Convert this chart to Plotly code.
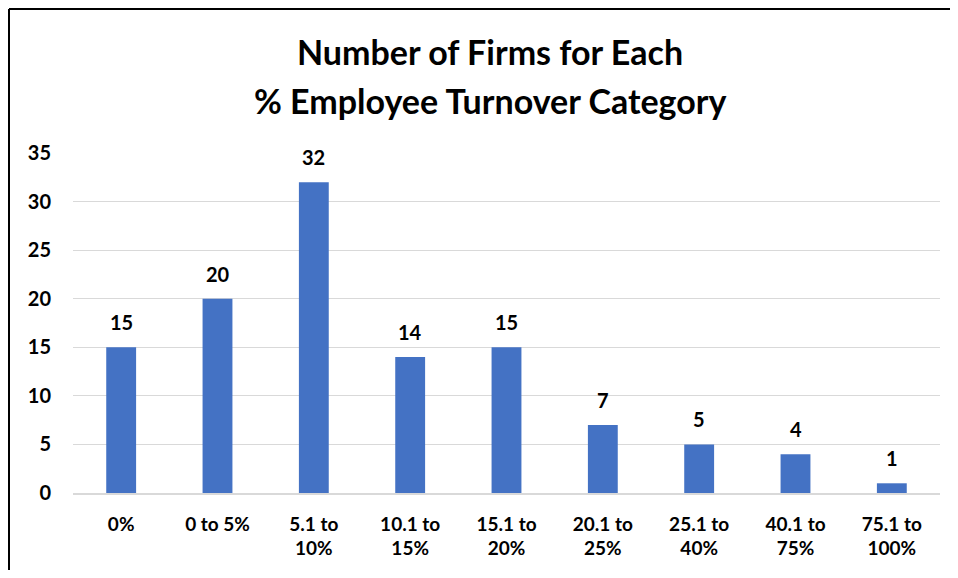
import plotly.graph_objects as go

CATEGORIES = ["0%", "0 to 5%", "5.1 to<br>10%", "10.1 to<br>15%", "15.1 to<br>20%",
              "20.1 to<br>25%", "25.1 to<br>40%", "40.1 to<br>75%", "75.1 to<br>100%"]
FIRMS = [15, 20, 32, 14, 15, 7, 5, 4, 1]
Y_TICKS = [0, 5, 10, 15, 20, 25, 30, 35]
TITLE_LINES = ["Number of Firms for Each", "% Employee Turnover Category"]

BAR_COLOR = "#4472C4"
FONT = "Lato, Carlito, Calibri, sans-serif"

# page body has an 8px margin; keep the figure small enough that no scrollbars appear
W, H = 942, 562
L, R, T, B = 65, 10, 145, 77
pw, ph = W - L - R, H - T - B

fig = go.Figure(
    go.Bar(
        x=CATEGORIES,
        y=FIRMS,
        marker=dict(color=BAR_COLOR, line=dict(width=0)),
        width=0.31,
        hoverinfo="x+y",
    )
)

# value labels above bars
for cat, val in zip(CATEGORIES, FIRMS):
    fig.add_annotation(x=cat, y=val, text=str(val), showarrow=False, yshift=25,
                       font=dict(size=20, color="black", family=FONT, weight="bold"))

# two-line title, placed in pixels
for line, py in zip(TITLE_LINES, [44, 92]):
    fig.add_annotation(xref="paper", yref="paper", x=(482 - L) / pw, y=(H - B - py) / ph,
                       text=line, showarrow=False, xanchor="center", yanchor="middle",
                       font=dict(size=34, color="black", family=FONT, weight="bold"))

# chart border (top and left edges only)
fig.add_shape(type="line", xref="paper", yref="paper",
              x0=(1 - L) / pw, x1=(W - L) / pw, y0=(H - B - 1) / ph, y1=(H - B - 1) / ph,
              line=dict(color="black", width=2))
fig.add_shape(type="line", xref="paper", yref="paper",
              x0=(1 - L) / pw, x1=(1 - L) / pw, y0=(H - B - 1) / ph, y1=(H - B - H) / ph,
              line=dict(color="black", width=2))

fig.update_layout(
    width=W,
    height=H,
    margin=dict(l=L, r=R, t=T, b=B, pad=0),
    paper_bgcolor="white",
    plot_bgcolor="white",
    showlegend=False,
    font=dict(family=FONT, color="black"),
    xaxis=dict(
        showgrid=False, showline=True, linecolor="#d9d9d9", linewidth=1.5,
        ticks="", tickfont=dict(size=19, color="black", family=FONT, weight="bold"),
        ticklabelstandoff=13, fixedrange=True,
    ),
    yaxis=dict(
        range=[0, 35], tickvals=Y_TICKS, showgrid=True, gridcolor="#d9d9d9", gridwidth=1,
        zeroline=False, showline=False, ticks="",
        tickfont=dict(size=20, color="black", family=FONT, weight="bold"),
        ticklabelstandoff=21, fixedrange=True,
    ),
)

fig.write_html("out.html", config={"displayModeBar": False})
